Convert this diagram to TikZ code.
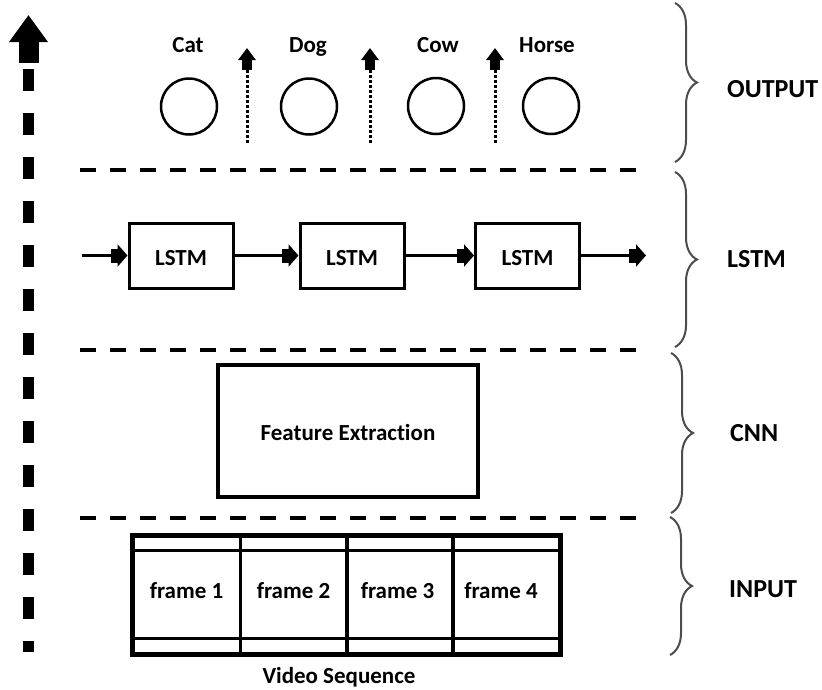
\documentclass[tikz,border=0pt]{standalone}
\usepackage{fontspec}
\setmainfont{Carlito}[Ligatures=NoCommon]
\usetikzlibrary{arrows.meta,decorations.pathreplacing}
\begin{document}
\begin{tikzpicture}[x=1pt,y=-1pt,
  lbl/.style={font=\fontsize{23}{27}\selectfont\bfseries, inner sep=0pt},
  layername/.style={font=\fontsize{26}{30}\selectfont\bfseries, inner sep=0pt, anchor=base west},
  outc/.style={circle, draw, line width=2.5pt, minimum size=56pt, inner sep=0pt},
  lstmbox/.style={draw, line width=3pt, minimum width=104pt, minimum height=65pt, inner sep=0pt,
    text height=19pt, text depth=0pt, font=\fontsize{23}{27}\selectfont\bfseries},
  featbox/.style={draw, line width=4pt, minimum width=260pt, minimum height=132pt, inner sep=0pt,
    text height=18pt, text depth=0pt, font=\fontsize{23}{27}\selectfont\bfseries},
  framecell/.style={draw, line width=3pt, minimum width=107pt, minimum height=117pt, inner sep=0pt},
  lstmarrow/.style={line width=2.5pt, -{Rectangle[width=14pt,length=7pt,sep=0pt] Triangle[width=22pt,length=10pt,sep=0pt]}},
  outarrow/.style={line width=3pt, dash pattern=on 3pt off 2pt, -{Rectangle[width=10pt,length=10pt,sep=0pt] Triangle[width=17pt,length=12pt,sep=0pt]}},
  sepline/.style={line width=3.5pt, dash pattern=on 16pt off 14pt},
  layerbrace/.style={draw=black!70, line width=2pt, decorate, decoration={brace, amplitude=22pt}},
  axisarrow/.style={line width=11pt, dash pattern=on 22pt off 22pt, dash phase=11pt,
    -{Rectangle[width=20pt,length=21pt,sep=0pt] Triangle[width=37pt,length=27pt,sep=0pt]}}
]
\useasboundingbox (0,0) rectangle (822,689);

% left axis arrow
\coordinate (axb) at (28.5,652);
\coordinate (axt) at (28.5,15);
\draw[axisarrow] (axb) -- (axt);

% separator lines
\coordinate (s1a) at (80,170);  \coordinate (s1b) at (640,170);
\coordinate (s2a) at (80,350);  \coordinate (s2b) at (640,350);
\coordinate (s3a) at (80,518);  \coordinate (s3b) at (640,518);
\draw[sepline] (s1a) -- (s1b);
\draw[sepline] (s2a) -- (s2b);
\draw[sepline] (s3a) -- (s3b);

% output layer
\node[outc] (c1) at (189,106.5) {};
\node[outc] (c2) at (309,106.5) {};
\node[outc] (c3) at (436,106) {};
\node[outc] (c4) at (551,106) {};
\node[lbl, anchor=base] (lcat) at (188,52) {Cat};
\node[lbl, anchor=base] (ldog) at (308,52) {Dog};
\node[lbl, anchor=base] (lcow) at (438,52) {Cow};
\node[lbl, anchor=base] (lhorse) at (547,52) {Horse};
\coordinate (o1b) at (247,143); \coordinate (o1t) at (247,48);
\coordinate (o2b) at (370,143); \coordinate (o2t) at (370,48);
\coordinate (o3b) at (495,143); \coordinate (o3t) at (495,48);
\draw[outarrow] (o1b) -- (o1t);
\draw[outarrow] (o2b) -- (o2t);
\draw[outarrow] (o3b) -- (o3t);

% LSTM layer
\node[lstmbox] (b1) at (181,255.5) {LSTM};
\node[lstmbox] (b2) at (352,255.5) {LSTM};
\node[lstmbox] (b3) at (527.5,255.5) {LSTM};
\coordinate (lin) at (82,255.5);
\coordinate (lout) at (646,255.5);
\draw[lstmarrow] (lin) -- (b1.west);
\draw[lstmarrow] (b1.east) -- (b2.west);
\draw[lstmarrow] (b2.east) -- (b3.west);
\draw[lstmarrow] (b3.east) -- (lout);

% CNN layer
\node[featbox] (fe) at (348,431) {Feature Extraction};

% input layer: film strip
\node[framecell] (f1) at (186.5,594.5) {};
\node[framecell] (f2) at (293.5,594.5) {};
\node[framecell] (f3) at (400,594.5) {};
\node[framecell] (f4) at (505.5,594.5) {};
\draw[line width=4pt] (f1.north west) rectangle (f4.south east);
\draw[line width=3pt] ([yshift=-16pt]f1.north west) -- ([yshift=-16pt]f4.north east);
\draw[line width=3pt] ([yshift=16pt]f1.south west) -- ([yshift=16pt]f4.south east);
\node[lbl, anchor=base] (t1) at ([yshift=-3.5pt]f1.center) {frame 1};
\node[lbl, anchor=base] (t2) at ([yshift=-3.5pt]f2.center) {frame 2};
\node[lbl, anchor=base] (t3) at ([xshift=-2.5pt,yshift=-3.5pt]f3.center) {frame 3};
\node[lbl, anchor=base] (t4) at ([xshift=-4.5pt,yshift=-3.5pt]f4.center) {frame 4};
\node[lbl, anchor=base] (vs) at (339,683) {Video Sequence};

% braces and layer names
\coordinate (br1a) at (675,3);   \coordinate (br1b) at (675,162);
\coordinate (br2a) at (675,172); \coordinate (br2b) at (675,347);
\coordinate (br3a) at (671,353); \coordinate (br3b) at (671,513);
\coordinate (br4a) at (670,517); \coordinate (br4b) at (670,655);
\draw[layerbrace] (br1a) -- (br1b);
\draw[layerbrace] (br2a) -- (br2b);
\draw[layerbrace] (br3a) -- (br3b);
\draw[layerbrace] (br4a) -- (br4b);
\node[layername] (nout) at (727,97) {OUTPUT};
\node[layername] (nlstm) at (727,267) {LSTM};
\node[layername] (ncnn) at (730,441) {CNN};
\node[layername] (ninp) at (729,597) {INPUT};
\end{tikzpicture}
\end{document}
